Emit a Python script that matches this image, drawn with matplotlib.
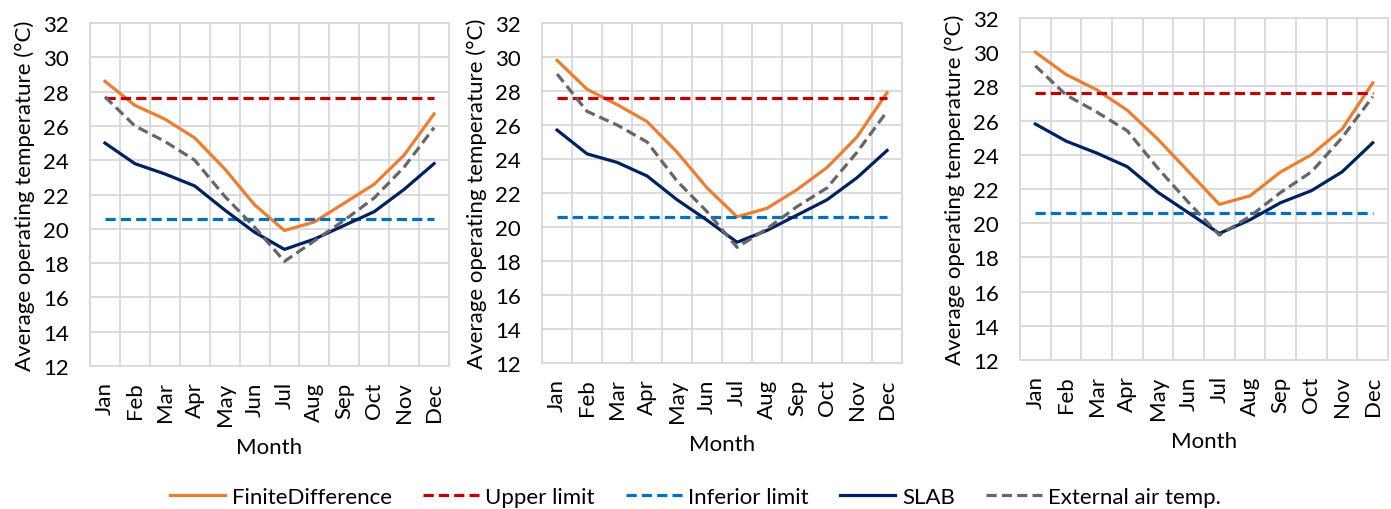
import numpy as np
import matplotlib
matplotlib.use("Agg")
import matplotlib.pyplot as plt

plt.rcParams["font.family"] = ["Lato", "DejaVu Sans"]

months = ["Jan", "Feb", "Mar", "Apr", "May", "Jun",
          "Jul", "Aug", "Sep", "Oct", "Nov", "Dec"]
upper_limit = 27.6
inferior_limit = 20.6

# panel 1
fd_1 = [28.6, 27.2, 26.4, 25.3, 23.5, 21.4, 19.9, 20.4, 21.5, 22.6, 24.3, 26.7]
slab_1 = [25.0, 23.8, 23.2, 22.5, 21.1, 19.8, 18.8, 19.4, 20.2, 21.0, 22.3, 23.8]
ext_1 = [27.7, 26.0, 25.1, 24.0, 21.9, 20.1, 18.1, 19.3, 20.5, 21.8, 23.6, 25.9]

# panel 2
fd_2 = [29.8, 28.1, 27.2, 26.2, 24.4, 22.3, 20.6, 21.1, 22.2, 23.5, 25.3, 27.9]
slab_2 = [25.7, 24.3, 23.8, 23.0, 21.6, 20.4, 19.1, 19.8, 20.7, 21.6, 22.9, 24.5]
ext_2 = [29.0, 26.8, 26.0, 25.0, 22.7, 20.9, 18.8, 19.9, 21.2, 22.3, 24.4, 26.8]

# panel 3
fd_3 = [30.0, 28.7, 27.8, 26.6, 24.9, 23.0, 21.1, 21.6, 23.0, 24.0, 25.5, 28.2]
slab_3 = [25.8, 24.8, 24.1, 23.3, 21.8, 20.6, 19.4, 20.2, 21.2, 21.9, 23.0, 24.7]
ext_3 = [29.2, 27.5, 26.5, 25.4, 23.2, 21.2, 19.3, 20.4, 21.8, 23.0, 25.0, 27.4]

panels = [(fd_1, slab_1, ext_1), (fd_2, slab_2, ext_2), (fd_3, slab_3, ext_3)]
boxes = [[0.0647, 0.2804, 0.2581, 0.6725],
         [0.3897, 0.2863, 0.2588, 0.6667],
         [0.7333, 0.2922, 0.2646, 0.6706]]

fig = plt.figure(figsize=(13.91, 5.10), dpi=100)
x = np.arange(12)
grid_c = "#d9d9d9"
dash = (0, (3.2, 1.6))

for (fd, slab, ext), box in zip(panels, boxes):
    ax = fig.add_axes(box)
    ax.plot(x, fd, color="#ED7D31", lw=2.3, label="FiniteDifference", zorder=3)
    ax.plot(x, [upper_limit] * 12, color="#C00000", lw=2.3, ls=dash,
            label="Upper limit", zorder=3)
    ax.plot(x, [inferior_limit] * 12, color="#0070C0", lw=2.3, ls=dash,
            label="Inferior limit", zorder=3)
    ax.plot(x, slab, color="#002060", lw=2.3, label="SLAB", zorder=3)
    ax.plot(x, ext, color="#666666", lw=2.3, ls=dash,
            label="External air temp.", zorder=3)

    ax.set_xlim(-0.5, 11.5)
    ax.set_ylim(12, 32)
    ax.set_yticks(range(12, 33, 2))
    ax.set_xticks(x)
    ax.set_xticklabels(months, rotation=90)
    ax.set_xticks(np.arange(-0.5, 12, 1), minor=True)
    ax.grid(which="major", axis="y", color=grid_c, lw=1.3)
    ax.grid(which="minor", axis="x", color=grid_c, lw=1.3)
    ax.tick_params(which="both", length=0, labelsize=16, colors="black")
    ax.tick_params(axis="x", pad=11)
    ax.tick_params(axis="y", pad=15)
    for s in ax.spines.values():
        s.set_color(grid_c)
        s.set_linewidth(1.3)
    ax.set_axisbelow(True)
    ax.set_xlabel("Month", fontsize=16, labelpad=9)
    ax.set_ylabel("Average operating temperature (°C)", fontsize=16, labelpad=6)

handles, labels = ax.get_legend_handles_labels()
fig.legend(handles, labels, loc="lower center", ncol=5, frameon=False,
           fontsize=16, handlelength=2.5, handletextpad=0.3, columnspacing=1.4,
           bbox_to_anchor=(0.5, -0.035))

fig.savefig("out.png", dpi=100)
